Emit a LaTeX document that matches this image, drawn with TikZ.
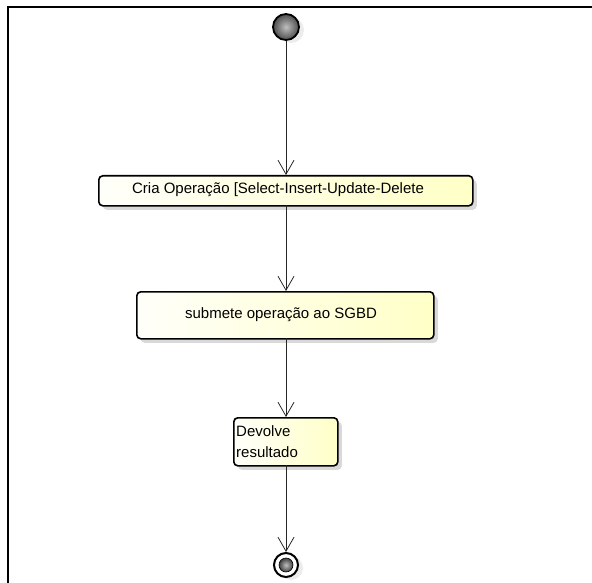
\documentclass[tikz,border=0pt]{standalone}
\usepackage{fontspec}
\setmainfont{Liberation Sans}
\usetikzlibrary{arrows.meta,shadows}
\begin{document}
\begin{tikzpicture}[x=1pt,y=-1pt,
  action/.style={draw=black, line width=1.6pt, rounded corners=4pt,
    left color=yellow!2, right color=yellow!22,
    drop shadow={shadow xshift=4pt, shadow yshift=-4pt, opacity=0.25, fill=black!60},
    inner sep=0pt, anchor=north west},
  label/.style={font=\fontsize{15}{21}\selectfont, inner sep=0pt},
  flow/.style={draw=black!85, line width=0.8pt,
    -{Straight Barb[length=14pt, width=16pt, line width=0.8pt]}},
  startdot/.style={circle, draw=black, line width=1.8pt, minimum size=26pt, inner sep=0pt,
    inner color=black!25, outer color=black!70,
    drop shadow={shadow xshift=5pt, shadow yshift=-3pt, opacity=0.15, fill=black!50}},
]
\useasboundingbox (0,0) rectangle (592,583);
% frame (top and left edges only)
\draw[line width=1.8pt] (8,583) -- (8,7) -- (592,7);

% initial node
\node[startdot] (start) at (286,27) {};

% action nodes
\node[action, minimum width=374pt, minimum height=30pt] (cria) at (98,175) {};
\node[label] at (278,190) {Cria Operação [Select-Insert-Update-Delete};

\node[action, minimum width=297pt, minimum height=47pt] (sub) at (136,291) {};
\node[label] at (281,315) {submete operação ao SGBD};

\node[action, minimum width=104pt, minimum height=48pt] (dev) at (233,417) {};
\node[label, anchor=west, align=left] at (236,442) {Devolve\\resultado};

% final node
\node[circle, draw=black, line width=2pt, minimum size=24pt, inner sep=0pt, fill=white,
  drop shadow={shadow xshift=5pt, shadow yshift=-3pt, opacity=0.15, fill=black!50}] (end) at (286,565) {};
\node[circle, inner sep=0pt, minimum size=14pt, inner color=black!25, outer color=black!75,
  draw=black, line width=0.6pt] at (end.center) {};

% control flows
\draw[flow] (start.south) -- (286,175);
\draw[flow] (286,205) -- (286,291);
\draw[flow] (286,338) -- (286,417);
\draw[flow] (286,465) -- (end.north);
\end{tikzpicture}
\end{document}
